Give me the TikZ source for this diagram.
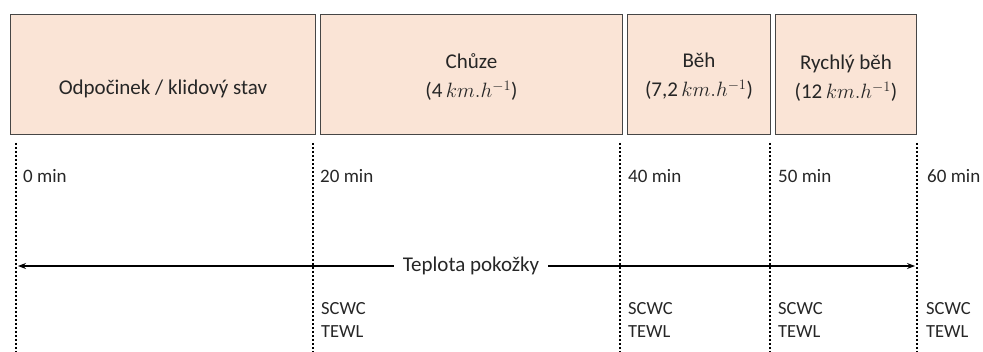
\documentclass[tikz,border=0pt]{standalone}
\usepackage{fontspec}
\setmainfont{Carlito}
\usetikzlibrary{arrows.meta}
\definecolor{phasefill}{RGB}{250,228,214}
\definecolor{phaseline}{RGB}{70,70,70}
\definecolor{ink}{RGB}{38,38,38}
\tikzset{
  phase/.style={draw=phaseline, line width=0.9pt, fill=phasefill, inner sep=0pt, anchor=north west},
  phasetext/.style={text=ink, font=\fontsize{21}{29}\selectfont, align=center, inner sep=0pt},
  timeline/.style={draw=black, line width=2pt, dash pattern=on 1.6pt off 2.4pt},
  timelabel/.style={text=ink, font=\fontsize{19}{23}\selectfont, anchor=west, inner sep=0pt},
  measure/.style={text=ink, font=\fontsize{18.5}{23}\selectfont, anchor=north west, align=left, inner sep=0pt},
  templine/.style={draw=black, line width=1.1pt, -{Stealth[length=8pt,width=6pt]}}
}
\begin{document}
\begin{tikzpicture}[x=1pt,y=-1pt]
\useasboundingbox (0,0) rectangle (983,352);

% activity phases
\node[phase, minimum width=305, minimum height=120] (b1) at (10,14) {};
\node[phase, minimum width=302, minimum height=120] (b2) at (320,14) {};
\node[phase, minimum width=143, minimum height=120] (b3) at (627,14) {};
\node[phase, minimum width=141, minimum height=120] (b4) at (775,14) {};

\node[phasetext] (t1) at ([yshift=-14]b1.center) {Odpočinek / klidový stav};
\node[phasetext] (t2) at ([yshift=-3]b2.center) {Chůze\\(4\,$km.h^{-1}$)};
\node[phasetext] (t3) at ([yshift=-2]b3.center) {Běh\\(7,2\,$km.h^{-1}$)};
\node[phasetext] (t4) at ([yshift=-4]b4.center) {Rychlý běh\\(12\,$km.h^{-1}$)};

% time marks
\foreach \n/\x in {m0/16, m20/313, m40/620, m50/770, m60/917} {
  \coordinate (\n top) at (\x,143);
  \coordinate (\n bot) at (\x,352);
  \draw[timeline] (\n top) -- (\n bot);
}

\node[timelabel] (l0) at (23,176) {0 min};
\node[timelabel] (l20) at (320,176) {20 min};
\node[timelabel] (l40) at (628,176) {40 min};
\node[timelabel] (l50) at (778,176) {50 min};
\node[timelabel] (l60) at (927,176) {60 min};

% skin temperature is recorded throughout
\node[phasetext] (temp) at (471,266) {Teplota pokožky};
\coordinate (tl) at (18,266);
\coordinate (tr) at (915,266);
\draw[templine] ([xshift=-9]temp.west) -- (tl);
\draw[templine] ([xshift=9]temp.east) -- (tr);

% SCWC and TEWL measurements
\node[measure] (s20) at (321,302) {SCWC\\TEWL};
\node[measure] (s40) at (628,302) {SCWC\\TEWL};
\node[measure] (s50) at (778,302) {SCWC\\TEWL};
\node[measure] (s60) at (926,302) {SCWC\\TEWL};
\end{tikzpicture}
\end{document}
